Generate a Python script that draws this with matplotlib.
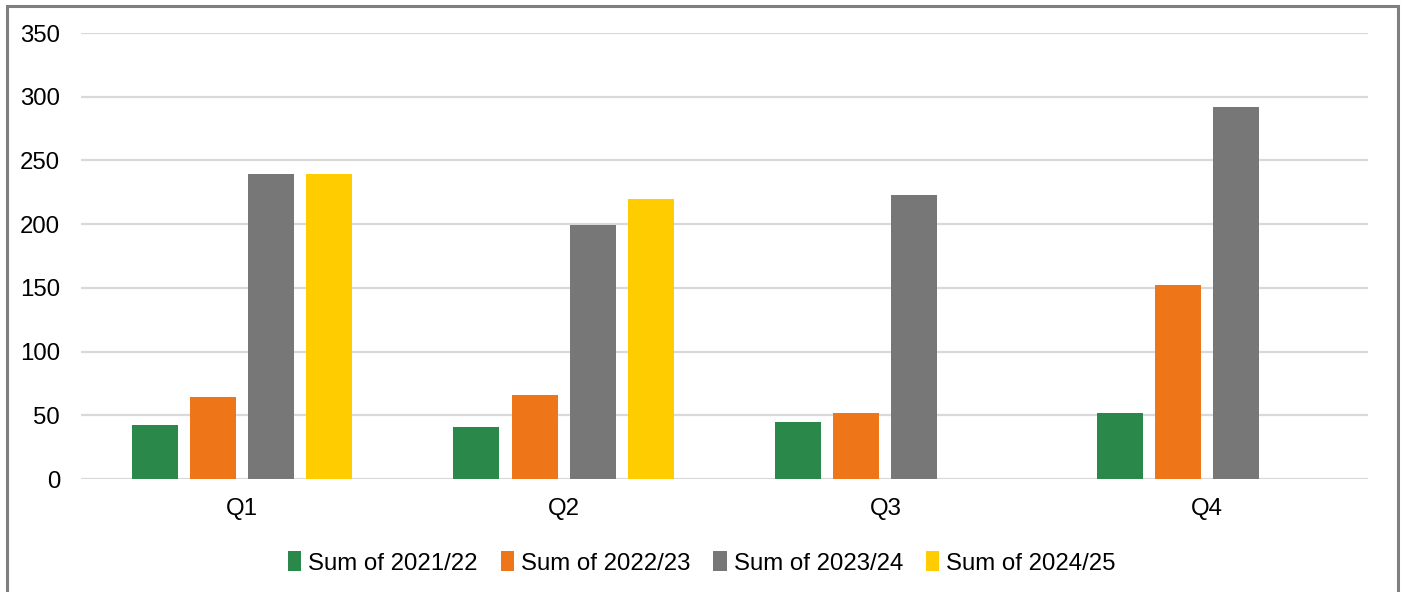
import numpy as np
import matplotlib.pyplot as plt
from matplotlib.patches import Rectangle

plt.rcParams['font.family'] = ['Liberation Sans', 'DejaVu Sans']

quarters = ['Q1', 'Q2', 'Q3', 'Q4']
series_names = ['Sum of 2021/22', 'Sum of 2022/23', 'Sum of 2023/24',
                'Sum of 2024/25']
sum_2021_22 = [42, 41, 45, 52]
sum_2022_23 = [64, 66, 52, 152]
sum_2023_24 = [239, 199, 223, 292]
sum_2024_25 = [239, 220, np.nan, np.nan]
colors = ['#2a884a', '#ee7518', '#777777', '#ffcc00']

series = [sum_2021_22, sum_2022_23, sum_2023_24, sum_2024_25]

fig = plt.figure(figsize=(14.04, 5.92), dpi=100)
ax = fig.add_axes([81 / 1404, 1 - 479 / 592, (1368 - 81) / 1404,
                   (479 - 33) / 592])

x = np.arange(len(quarters))
step = 0.181
width = 0.143
for i, (vals, name, col) in enumerate(zip(series, series_names, colors)):
    ax.bar(x + (i - 1.5) * step, vals, width=width, color=col, label=name,
           zorder=3)

ax.set_xlim(-0.5, 3.5)
ax.set_ylim(0, 350)
ax.set_yticks(np.arange(0, 351, 50))
ax.set_xticks(x)
ax.set_xticklabels(quarters)
ax.yaxis.grid(True, color='#d9d9d9', linewidth=1.6, zorder=0)
ax.set_axisbelow(True)
for s in ax.spines.values():
    s.set_visible(False)
ax.tick_params(axis='both', length=0, labelsize=17.3, colors='black')
ax.tick_params(axis='y', pad=15)
ax.tick_params(axis='x', pad=14)

# outer chart border (bottom edge falls outside the picture)
fig.patches.append(Rectangle((6.5 / 1404, -0.05), (1398 - 6.5) / 1404,
                             1.05 - 6 / 592, transform=fig.transFigure,
                             fill=False, edgecolor='#7f7f7f', linewidth=2.2))

fig.legend(loc='center', bbox_to_anchor=(0.5, 1 - 563 / 592), ncol=4,
           frameon=False, fontsize=17.3, handlelength=0.55, handleheight=0.9,
           handletextpad=0.3, columnspacing=0.95)

fig.savefig('out.png', dpi=100)
